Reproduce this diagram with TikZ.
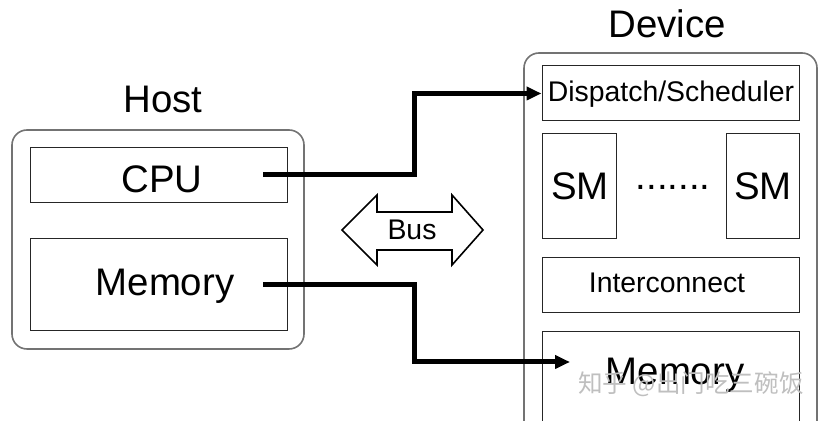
\documentclass[tikz,border=0pt]{standalone}
\usepackage{fontspec}
\setmainfont{Liberation Sans}
\newfontfamily\cjkfont{Noto Sans CJK SC}
\usetikzlibrary{arrows.meta,positioning,calc,fit}

\tikzset{
  outerbox/.style={draw=black!55, line width=0.8pt, rounded corners=7.5pt, inner sep=0pt},
  unitbox/.style={draw=black!85, line width=0.5pt, inner sep=0pt},
  bigtxt/.style={font=\fontsize{19.2}{23}\selectfont, anchor=base, inner sep=0pt},
  smalltxt/.style={font=\fontsize{14.2}{17}\selectfont, anchor=base, inner sep=0pt},
  link/.style={line width=2.5pt, -{Triangle[length=7.5pt,width=6.5pt]}},
}

\begin{document}
\begin{tikzpicture}[x=0.5pt,y=-0.5pt]
  \useasboundingbox (0,0) rectangle (825,421);
  \clip (0,0) rectangle (825,421);
  \begin{scope}
    \node[outerbox, fit={(12,130) (304,349)}] (host) {};
    \node[unitbox, fit={(30,148) (287,203)}] (cpu) {};
    \node[unitbox, fit={(30,239) (287,331)}] (hmem) {};
    \node[bigtxt] (hosttxt) at (163,113) {Host};
    \node[bigtxt] (cputxt) at (162,193) {CPU};
    \node[bigtxt] (hmemtxt) at (165,296) {Memory};
    \coordinate (cpuout) at (263,175); \coordinate (hmemout) at (263,285);
  \end{scope}
  \begin{scope}
    \node[outerbox, fit={(524,53) (817,480)}] (device) {};
    \node[unitbox, fit={(542,66) (799,121)}] (dispatch) {};
    \node[unitbox, fit={(542,134) (616,239)}] (sma) {};
    \node[unitbox, fit={(726,134) (799,239)}] (smb) {};
    \node[unitbox, fit={(542,258) (799,313)}] (inter) {};
    \node[unitbox, fit={(542,332) (799,470)}] (dmem) {};
    \node[bigtxt] (devtxt) at (667,38) {Device};
    \node[smalltxt] (disptxt) at (671,102) {Dispatch/Scheduler};
    \node[bigtxt] (smatxt) at (580,200) {SM};
    \node[bigtxt] (smbtxt) at (763,200) {SM};
    \node[bigtxt] (dots) at (673,190) {.......};
    \node[smalltxt] (intertxt) at (667,293) {Interconnect};
    \node[bigtxt] (dmemtxt) at (675,385) {Memory};
    \coordinate (dmemin) at (570,362);
  \end{scope}
  \draw[line width=0.8pt, line join=miter] (342,230) -- (377,195) -- (377,212) -- (452,212)
    -- (452,195) -- (483,230) -- (452,265) -- (452,250) -- (377,250) -- (377,265) -- cycle;
  \node[smalltxt] (bus) at (412,240) {Bus};
  \draw[link] (cpuout) -- ++(151,0) |- (dispatch.west);
  \draw[link] (hmemout) -- ++(151,0) |- (dmemin);
  \node[font=\cjkfont\fontsize{12.3}{15}\selectfont, text=black!25, anchor=base] (mark) at (691,393) {知乎 @出门吃三碗饭};
\end{tikzpicture}
\end{document}
